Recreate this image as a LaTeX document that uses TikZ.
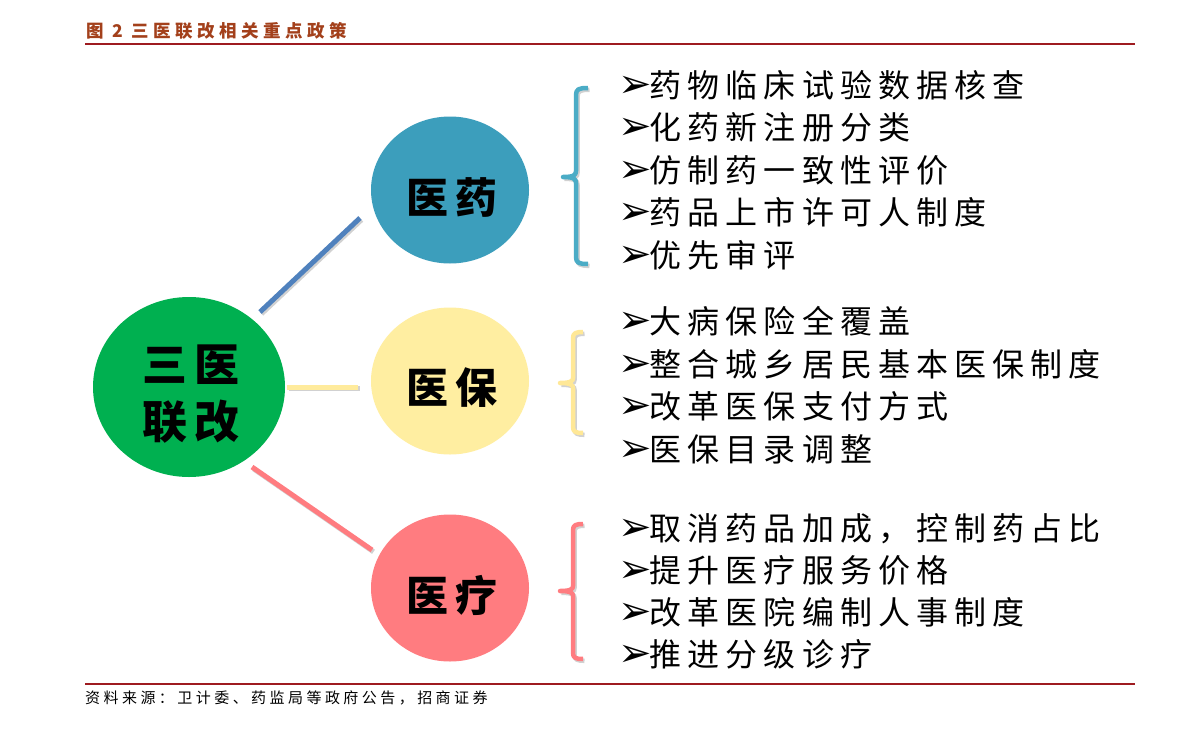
\documentclass[tikz,border=0pt]{standalone}
\usepackage{fontspec}
\usetikzlibrary{shapes.geometric}
\newfontfamily\cjk[LetterSpace=19]{Noto Sans CJK SC}
\newfontfamily\cjkc[LetterSpace=19]{Noto Sans CJK SC}
\newfontfamily\cjkg[LetterSpace=16]{Noto Sans CJK SC}
\newfontfamily\cjkt[LetterSpace=26]{Noto Sans CJK SC}
\newfontfamily\cjkf[LetterSpace=23]{Noto Sans CJK SC}
\newfontfamily\dv{DejaVu Sans}
\newcommand\arr{{\dv\fontsize{40}{40}\selectfont ➢}\kern-2pt}
\definecolor{titlered}{HTML}{A3401B}
\definecolor{rulered}{HTML}{9E1B20}
\definecolor{cblue}{HTML}{3C9EBC}
\definecolor{cgreen}{HTML}{00B050}
\definecolor{cyellow}{HTML}{FFEEA1}
\definecolor{cpink}{HTML}{FF7C80}
\definecolor{lblue}{HTML}{4F81BD}
\definecolor{lyellow}{HTML}{FFEB9C}
\definecolor{bblue}{HTML}{4BACC6}
\definecolor{byellow}{HTML}{FFE897}
\tikzset{
  circ/.style={ellipse, draw=none, inner sep=0, minimum width=158pt, minimum height=147pt},
  clabel/.style={inner sep=0, font=\cjkc\bfseries\fontsize{42}{42}\selectfont},
  glabel/.style={inner sep=0, align=center, font=\cjkg\bfseries\fontsize{45}{57}\selectfont},
  item/.style={anchor=base west, inner sep=0, font=\cjk\fontsize{32}{32}\selectfont},
  conn/.style={line width=5pt, preaction={draw=black, opacity=0.18, line width=5pt, transform canvas={shift={(1.5,1.8)}}}},
  bracket/.style={line width=4.5pt, line join=round, preaction={draw=black, opacity=0.18, line width=4.5pt, transform canvas={shift={(1.5,1.8)}}}}
}
\begin{document}
\begin{tikzpicture}[x=1pt,y=-1pt]
\useasboundingbox (0,0) rectangle (1191,728);
\fill[white] (0,0) rectangle (1191,728);
% title and rules
\node[anchor=base west, inner sep=0, text=titlered, font=\cjkt\bfseries\fontsize{17.5}{17.5}\selectfont] (title) at (86,37) {图 2 三医联改相关重点政策};
\draw[rulered, line width=2pt] (85,44) -- (1135,44);
\draw[rulered, line width=2.5pt] (85,684) -- (1135,684);
\node[anchor=base west, inner sep=0, font=\cjkf\fontsize{15}{15}\selectfont] (src) at (85,703) {资料来源：卫计委、药监局等政府公告，招商证券};
% circles
\node[circ, fill=cgreen, minimum width=192pt, minimum height=180pt] (g) at (189,387) {};
\node[circ, fill=cblue] (b) at (450,190) {};
\node[circ, fill=cyellow] (y) at (450,381) {};
\node[circ, fill=cpink] (p) at (450,588) {};
\node[glabel] (gt) at (191,394) {三医\\联改};
\node[clabel] (bt) at (452,197) {医药};
\node[clabel] (yt) at (452,388) {医保};
\node[clabel] (pt) at (452,595) {医疗};
% connectors
\coordinate (gb) at (260,312); \coordinate (bg) at (360,218);
\coordinate (gy) at (287,387); \coordinate (yg) at (358,387);
\coordinate (gp) at (252,467); \coordinate (pg) at (372,550);
\draw[conn, lblue] (gb) -- (bg);
\draw[conn, lyellow] (gy) -- (yg);
\draw[conn, cpink] (gp) -- (pg);
% brackets
\draw[bracket, bblue] (588,88) .. controls (579,88) and (576,89) .. (576,95) -- (576,171)
  .. controls (576,175) and (574,177) .. (563,177) .. controls (574,177) and (576,179) .. (576,183)
  -- (576,257) .. controls (576,263) and (579,264) .. (588,264);
\draw[bracket, byellow] (583,332) .. controls (576,332) and (573,333) .. (573,338) -- (573,378)
  .. controls (573,381) and (571,383) .. (560,383) .. controls (571,383) and (573,385) .. (573,388)
  -- (573,427) .. controls (573,432) and (576,433) .. (583,433);
\draw[bracket, cpink] (583,524) .. controls (576,524) and (573,525) .. (573,530) -- (573,586)
  .. controls (573,589) and (571,591) .. (560,591) .. controls (571,591) and (573,593) .. (573,596)
  -- (573,653) .. controls (573,658) and (576,659) .. (583,659);
% list 1
\node[item] (a1) at (618,97) {\arr 药物临床试验数据核查};
\node[item] (a2) at (618,139) {\arr 化药新注册分类};
\node[item] (a3) at (618,182) {\arr 仿制药一致性评价};
\node[item] (a4) at (618,224) {\arr 药品上市许可人制度};
\node[item] (a5) at (618,267) {\arr 优先审评};
% list 2
\node[item] (c1) at (618,333) {\arr 大病保险全覆盖};
\node[item] (c2) at (618,376) {\arr 整合城乡居民基本医保制度};
\node[item] (c3) at (618,418) {\arr 改革医保支付方式};
\node[item] (c4) at (618,461) {\arr 医保目录调整};
% list 3
\node[item] (d1) at (618,540) {\arr 取消药品加成，控制药占比};
\node[item] (d2) at (618,582) {\arr 提升医疗服务价格};
\node[item] (d3) at (618,624) {\arr 改革医院编制人事制度};
\node[item] (d4) at (618,666) {\arr 推进分级诊疗};
\end{tikzpicture}
\end{document}
